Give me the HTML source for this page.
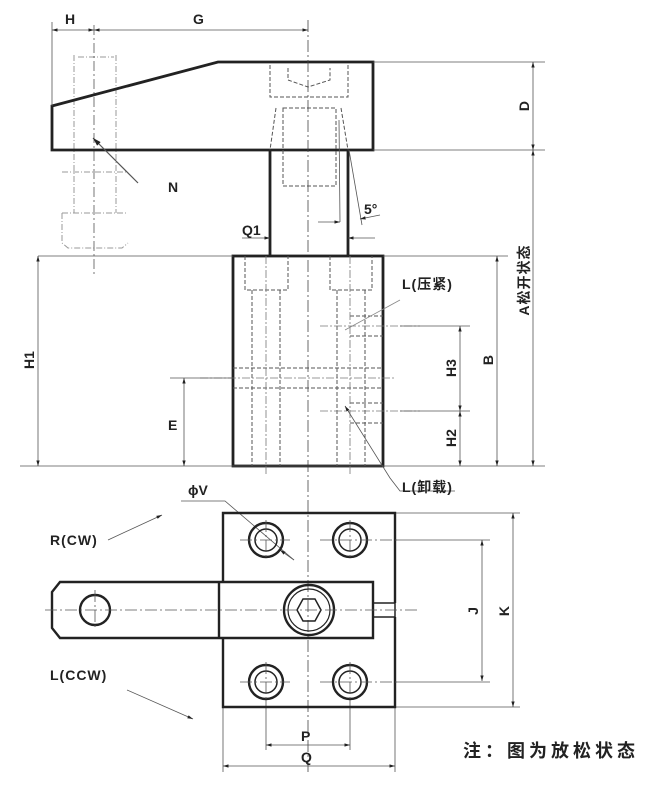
<!DOCTYPE html>
<html><head><meta charset="utf-8"><style>
html,body{margin:0;padding:0;background:#fff}
svg{display:block}
text{font-family:"Liberation Sans","Noto Sans CJK SC",sans-serif;font-weight:bold;fill:#222}
</style></head><body>
<svg width="660" height="786" viewBox="0 0 660 786" xmlns="http://www.w3.org/2000/svg">
<defs>
<marker id="a" viewBox="0 0 10 10" refX="10" refY="5" markerWidth="7" markerHeight="7" orient="auto-start-reverse"><path d="M0,2 L10,5 L0,8 z" fill="#222"/></marker>
</defs>
<g fill="none" stroke="#222">
<g stroke="#999" stroke-width="1" stroke-dasharray="6,2,1,2">
<path d="M74,55 V213 M116,55 V213 M78,57 H114 M62,213 H128 M62,213 V243 L68,248 H122 L128,243 M62,172 H128"/>
</g>
<line x1="94" y1="25" x2="94" y2="275" stroke="#555" stroke-width="0.8" stroke-dasharray="10,3,2,3"/>
<path d="M52,150 V106 L218,62 H373 V150 Z" stroke-width="2.8"/>
<g stroke="#555" stroke-width="1" stroke-dasharray="4,2">
<path d="M270,65 V97 H348 V65 M288,68 V80 L308,87 L330,80 V68 M283,108 V186 H336 V108 Z M276,108 L270,150 M341,108 L348,150"/>
</g>
<path d="M270,150 V256 M348,150 V256" stroke-width="2.8"/>
<line x1="308" y1="20" x2="308" y2="500" stroke="#444" stroke-width="0.8" stroke-dasharray="12,3,2,3"/>
<line x1="308" y1="500" x2="308" y2="775" stroke="#444" stroke-width="0.8" stroke-dasharray="12,3,2,3"/>
<rect x="233" y="256" width="150" height="210" stroke-width="2.8"/>
<g stroke="#555" stroke-width="1" stroke-dasharray="4,2">
<path d="M245,256 V290 H288 V256 M330,256 V290 H372 V256 M252,290 V466 M280,290 V466 M337,290 V466 M365,290 V466"/>
<path d="M233,368 H383 M233,388 H383"/>
<path d="M350,316 H383 M350,336 H383 M350,403 H383 M350,423 H383"/>
</g>
<g stroke="#777" stroke-width="0.8" stroke-dasharray="8,2,2,2">
<path d="M266,256 V476 M350,256 V476 M320,326 H420 M200,378 H395 M320,411 H420"/>
</g>
<g stroke="#555" stroke-width="0.8">
<path d="M52,22 V106 M373,62 H545 M373,150 H545 M383,256 H508 M38,256 H233 M20,466 H545 M170,378 H233 M400,326 H470 M400,411 H470"/>
<line x1="52" y1="30" x2="94" y2="30" marker-start="url(#a)" marker-end="url(#a)"/>
<line x1="94" y1="30" x2="308" y2="30" marker-start="url(#a)" marker-end="url(#a)"/>
<line x1="533" y1="62" x2="533" y2="150" marker-start="url(#a)" marker-end="url(#a)"/>
<line x1="533" y1="150" x2="533" y2="466" marker-start="url(#a)" marker-end="url(#a)"/>
<line x1="497" y1="256" x2="497" y2="466" marker-start="url(#a)" marker-end="url(#a)"/>
<line x1="460" y1="326" x2="460" y2="411" marker-start="url(#a)" marker-end="url(#a)"/>
<line x1="460" y1="411" x2="460" y2="466" marker-start="url(#a)" marker-end="url(#a)"/>
<line x1="38" y1="256" x2="38" y2="466" marker-start="url(#a)" marker-end="url(#a)"/>
<line x1="184" y1="378" x2="184" y2="466" marker-start="url(#a)" marker-end="url(#a)"/>
<line x1="242" y1="238" x2="270" y2="238" marker-end="url(#a)"/>
<line x1="375" y1="238" x2="348" y2="238" marker-end="url(#a)"/>
<path d="M339,120 L340,222 M349,150 L362,225"/>
<line x1="318" y1="222" x2="340" y2="222" marker-end="url(#a)"/>
<line x1="380" y1="215" x2="360" y2="219" marker-end="url(#a)"/>
<line x1="138" y1="183" x2="93" y2="138" stroke-width="1.2" marker-end="url(#a)"/>
<line x1="400" y1="300" x2="345" y2="330" stroke="#888"/>
<path d="M455,491 H400 L390,478 L345,406" marker-end="url(#a)"/>
<path d="M395,513 H520 M395,540 H490 M395,682 H490 M395,707 H520 M223,707 V772 M395,707 V772 M266,700 V750 M350,700 V750"/>
<line x1="513" y1="513" x2="513" y2="707" marker-start="url(#a)" marker-end="url(#a)"/>
<line x1="482" y1="540" x2="482" y2="681" marker-start="url(#a)" marker-end="url(#a)"/>
<line x1="266" y1="745" x2="350" y2="745" marker-start="url(#a)" marker-end="url(#a)"/>
<line x1="223" y1="766" x2="395" y2="766" marker-start="url(#a)" marker-end="url(#a)"/>
<line x1="108" y1="540" x2="162" y2="515" marker-end="url(#a)"/>
<line x1="127" y1="690" x2="193" y2="719" marker-end="url(#a)"/>
<path d="M181,501 H225 L294,560" />
<line x1="294" y1="560" x2="280" y2="550" marker-end="url(#a)"/>
</g>
<g stroke="#222" stroke-width="2.4">
<path d="M223,582 V513 H395 V603 M395,617 V707 H223 V638"/>
<path d="M60,582 H373 V638 H60 L52,628 V592 Z M219,582 V638"/>
<rect x="373" y="603" width="22" height="14" stroke-width="1.5"/>
<circle cx="309" cy="610" r="25"/><circle cx="309" cy="610" r="21" stroke-width="1.2"/>
<path d="M297,610 L303,599 H315 L321,610 L315,621 H303 Z" stroke-width="1.5"/>
<circle cx="95" cy="610" r="15"/>
<circle cx="266" cy="540" r="17"/><circle cx="266" cy="540" r="11" stroke-width="1.5"/>
<circle cx="350" cy="540" r="17"/><circle cx="350" cy="540" r="11" stroke-width="1.5"/>
<circle cx="266" cy="682" r="17"/><circle cx="266" cy="682" r="11" stroke-width="1.5"/>
<circle cx="350" cy="682" r="17"/><circle cx="350" cy="682" r="11" stroke-width="1.5"/>
</g>
<g stroke="#555" stroke-width="0.8" stroke-dasharray="12,3,2,3">
<path d="M45,610 H420 M95,590 V630 M240,540 H290 M320,540 H400 M240,682 H290 M320,682 H400 M266,520 V560 M350,520 V560 M266,662 V702 M350,662 V702"/>
</g>
</g>
<g font-size="14">
<text x="65" y="24">H</text>
<text x="193" y="24">G</text>
<text x="168" y="192">N</text>
<text x="242" y="235">Q1</text>
<text x="364" y="214">5°</text>
<text x="402" y="289" letter-spacing="1">L(压紧)</text>
<text x="402" y="492" letter-spacing="1">L(卸载)</text>
<text x="188" y="495">ϕV</text>
<text x="50" y="545" letter-spacing="1">R(CW)</text>
<text x="50" y="680" letter-spacing="1">L(CCW)</text>
<text x="301" y="741">P</text>
<text x="301" y="762">Q</text>
<text transform="translate(529,106) rotate(-90)" text-anchor="middle">D</text>
<text transform="translate(529,280) rotate(-90)" text-anchor="middle" letter-spacing="1">A松开状态</text>
<text transform="translate(493,360) rotate(-90)" text-anchor="middle">B</text>
<text transform="translate(456,368) rotate(-90)" text-anchor="middle">H3</text>
<text transform="translate(456,438) rotate(-90)" text-anchor="middle">H2</text>
<text transform="translate(34,360) rotate(-90)" text-anchor="middle">H1</text>
<text x="168" y="430">E</text>
<text transform="translate(478,611) rotate(-90)" text-anchor="middle">J</text>
<text transform="translate(509,611) rotate(-90)" text-anchor="middle">K</text>
</g>
<text x="463" y="757" font-size="18" font-weight="normal" letter-spacing="4">注：图为放松状态</text>
</svg>
</body></html>
